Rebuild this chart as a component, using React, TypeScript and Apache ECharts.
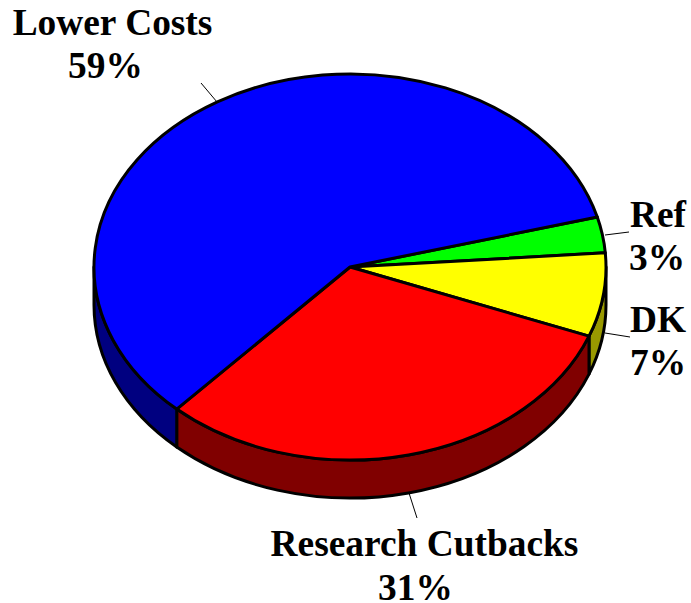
import React, { useEffect, useRef } from "react";
import * as echarts from "echarts";

const categories = ["Ref", "DK", "Research Cutbacks", "Lower Costs"];
const shares = [3, 7, 31, 59];
const topColors = ["#00ff00", "#ffff00", "#ff0000", "#0000ff"];
const sideColors = ["#008000", "#999900", "#800000", "#000080"];

const CX = 350, CY = 267, RX = 256, RY = 193, DEPTH = 38, START = -15;
const FONT = "'Liberation Serif', 'Times New Roman', serif";
const FONT_SIZE = 37.4;

// label anchors: [x, baseline of name, baseline of percent, align, percent x]
const labelLayout = [
  { x: 630, y1: 227, y2: 270, align: "left", x2: 629 },
  { x: 630, y1: 332, y2: 375, align: "left", x2: 630 },
  { x: 424.5, y1: 556, y2: 600, align: "center", x2: 415.5 },
  { x: 112.5, y1: 35, y2: 78, align: "center", x2: 105.5 },
];
const leaders = [
  [605, 235, 629, 232],
  [605, 333, 630, 337],
  [409, 493, 417, 518],
  [201, 83, 217, 102],
];

const total = shares.reduce((a, b) => a + b, 0);
const pt = (deg: number, dy = 0): [number, number] => {
  const r = (deg * Math.PI) / 180;
  return [CX + RX * Math.cos(r), CY + RY * Math.sin(r) + dy];
};
const fx = (n: number) => n.toFixed(2);
const arcTo = (deg: number, from: number, dy: number) => {
  const [x, y] = pt(deg, dy);
  const large = Math.abs(deg - from) > 180 ? 1 : 0;
  const sweep = deg > from ? 1 : 0;
  return `A${RX} ${RY} 0 ${large} ${sweep} ${fx(x)} ${fx(y)}`;
};

function renderSlice(params: any, api: any) {
  const i = params.dataIndex;
  let a0 = START;
  for (let k = 0; k < i; k++) a0 += (shares[k] / total) * 360;
  const a1 = a0 + (api.value(0) / total) * 360;
  const children: any[] = [];
  const s0 = Math.max(a0, 0);
  const s1 = Math.min(a1, 180);
  if (s1 > s0) {
    const [x0, y0] = pt(s0);
    const [x1, y1] = pt(s1, DEPTH);
    const d = `M${fx(x0)} ${fx(y0)}${arcTo(s1, s0, 0)}L${fx(x1)} ${fx(y1)}${arcTo(s0, s1, DEPTH)}Z`;
    children.push({
      type: "path",
      shape: { pathData: d },
      style: { fill: sideColors[i], stroke: "#000", lineWidth: 3, lineJoin: "round" },
    });
  }
  const [tx, ty] = pt(a0);
  const top = `M${CX} ${CY}L${fx(tx)} ${fx(ty)}${arcTo(a1, a0, 0)}Z`;
  children.push({
    type: "path",
    shape: { pathData: top },
    style: { fill: topColors[i], stroke: "#000", lineWidth: 3, lineJoin: "round" },
  });
  return { type: "group", children };
}

export default function App() {
  const ref = useRef<HTMLDivElement>(null);
  useEffect(() => {
    const chart = echarts.init(ref.current!, undefined, { renderer: "svg" });
    const textStyle = (text: string, x: number, baseline: number, align: string) => ({
      type: "text",
      silent: true,
      x,
      y: baseline,
      style: {
        text,
        fill: "#000",
        font: `bold ${FONT_SIZE}px ${FONT}`,
        textAlign: align,
        textVerticalAlign: "bottom",
      },
    });
    const graphics: any[] = [];
    leaders.forEach(([x1, y1, x2, y2]) =>
      graphics.push({
        type: "line",
        silent: true,
        shape: { x1, y1, x2, y2 },
        style: { stroke: "#000", lineWidth: 1 },
      })
    );
    categories.forEach((name, i) => {
      const l = labelLayout[i];
      graphics.push(textStyle(name, l.x, l.y1 + 6, l.align));
      graphics.push(textStyle(`${shares[i]}%`, l.x2, l.y2 + 6, l.align));
    });
    chart.setOption({
      animation: false,
      backgroundColor: "#ffffff",
      series: [
        {
          type: "custom",
          coordinateSystem: "none",
          renderItem: renderSlice,
          data: shares.map((v) => [v]),
          silent: true,
        },
      ],
      graphic: graphics,
    });
    return () => chart.dispose();
  }, []);
  return <div ref={ref} style={{ position: "absolute", left: 0, top: 0, width: 691, height: 603 }} />;
}
